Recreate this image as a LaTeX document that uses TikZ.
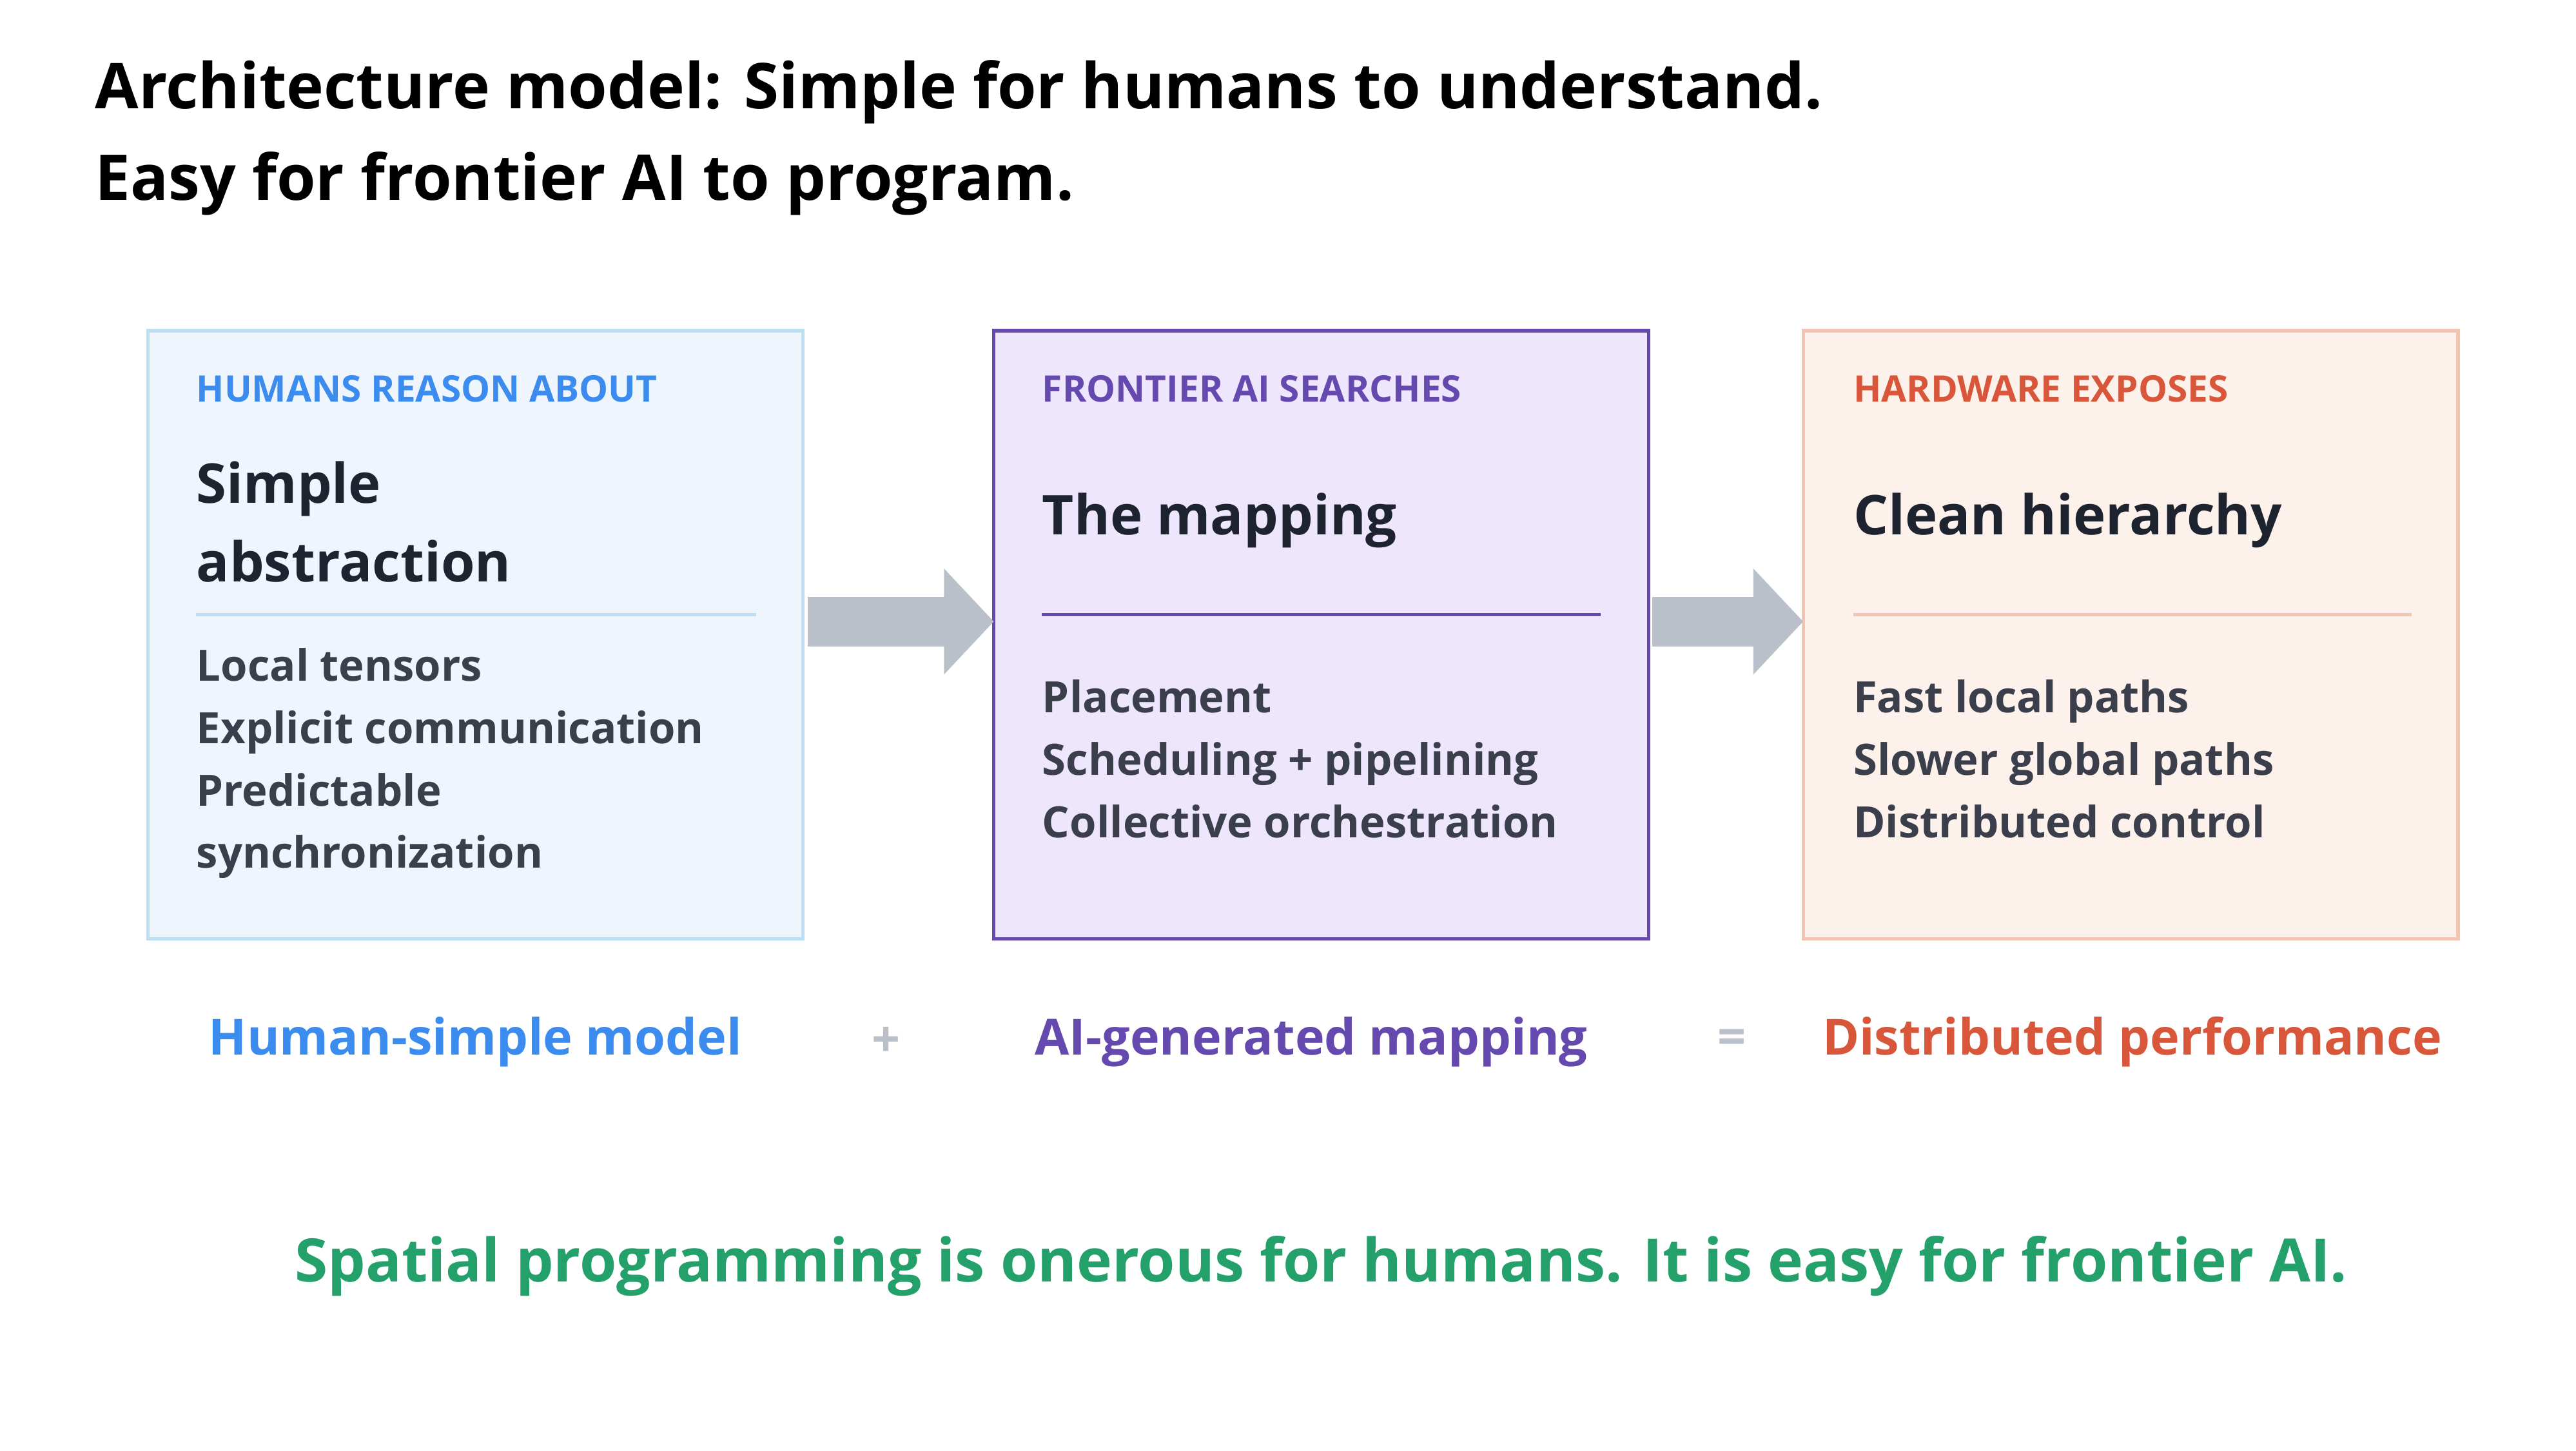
\documentclass[tikz,border=0pt]{standalone}
\usepackage{fontspec}
\setmainfont{Open Sans}
\usetikzlibrary{arrows.meta, positioning}
\definecolor{humblue}{HTML}{3C8CF0}
\definecolor{humfill}{HTML}{EEF5FC}
\definecolor{humline}{HTML}{BCDFF3}
\definecolor{aipurple}{HTML}{6549AE}
\definecolor{aifill}{HTML}{EEE6FD}
\definecolor{hwred}{HTML}{D8573A}
\definecolor{hwfill}{HTML}{FDF1EC}
\definecolor{hwline}{HTML}{F3C4B4}
\definecolor{inkdark}{HTML}{1E2330}
\definecolor{inkbody}{HTML}{3A3F4B}
\definecolor{flowgray}{HTML}{B9C0CA}
\definecolor{takegreen}{HTML}{24A06A}
\tikzset{
  panel/.style={draw, line width=2pt, outer sep=0pt, minimum width=394pt, minimum height=366pt, anchor=north west},
  tag/.style={anchor=west, inner sep=0pt, font=\fontsize{22}{28}\selectfont\bfseries},
  head/.style={anchor=west, inner sep=0pt, align=left, text=inkdark, font=\fontsize{33}{47}\selectfont\bfseries},
  items/.style={anchor=north west, inner sep=0pt, align=left, text=inkbody, font=\fontsize{26}{37.5}\selectfont\bfseries},
  result/.style={font=\fontsize{30}{38}\selectfont\bfseries},
  flow/.style={draw=flowgray, line width=30pt, -{Triangle[length=30pt, width=62pt]}, shorten >=0pt}
}
\begin{document}
\begin{tikzpicture}[x=1pt, y=-1pt]
  \useasboundingbox[fill=white] (0,0) rectangle (1550,873);

  % Title
  \node[anchor=west, inner sep=0pt, font=\fontsize{38}{55}\selectfont\bfseries, align=left] (title) at (57,83)
    {Architecture model: Simple for humans to understand.\\Easy for frontier AI to program.};

  % Panels
  \node[panel, draw=humline, fill=humfill] (human) at (89,199) {};
  \node[panel, draw=aipurple, fill=aifill] (ai) at (598,199) {};
  \node[panel, draw=hwline, fill=hwfill] (hw) at (1085,199) {};

  % Human panel
  \node[tag, text=humblue] (humantag) at (118,234) {HUMANS REASON ABOUT};
  \node[head] (humanhead) at (118,314) {Simple\\abstraction};
  \draw[humline, line width=2pt] (118,370) -- (455,370);
  \node[items] (humanitems) at (118,390) {Local tensors\\Explicit communication\\Predictable\\synchronization};

  % AI panel
  \node[tag, text=aipurple] (aitag) at (627,234) {FRONTIER AI SEARCHES};
  \node[head] (aihead) at (627,313) {The mapping};
  \draw[aipurple, line width=2pt] (627,370) -- (963,370);
  \node[items] (aiitems) at (627,409) {Placement\\Scheduling + pipelining\\Collective orchestration};

  % Hardware panel
  \node[tag, text=hwred] (hwtag) at (1115,234) {HARDWARE EXPOSES};
  \node[head] (hwhead) at (1115,313) {Clean hierarchy};
  \draw[hwline, line width=2pt] (1115,370) -- (1451,370);
  \node[items] (hwitems) at (1115,409) {Fast local paths\\Slower global paths\\Distributed control};

  % Flow arrows
  \draw[flow] (human.east) ++(3,-8) coordinate (h1) -- (ai.west |- h1);
  \draw[flow] (ai.east) ++(2,-8) coordinate (a1) -- (hw.west |- a1);

  % Equation row
  \node[result, text=humblue] (simple) at (286,627) {Human-simple model};
  \node[result, text=flowgray] (plus) at (533,627) {+};
  \node[result, text=aipurple] (mapping) at (789,627) {AI-generated mapping};
  \node[result, text=flowgray] (equals) at (1042,627) {=};
  \node[result, text=hwred] (perf) at (1283,627) {Distributed performance};

  % Takeaway
  \node[text=takegreen, font=\fontsize{36}{44}\selectfont\bfseries] (takeaway) at (795,762)
    {Spatial programming is onerous for humans. It is easy for frontier AI.};
\end{tikzpicture}
\end{document}
